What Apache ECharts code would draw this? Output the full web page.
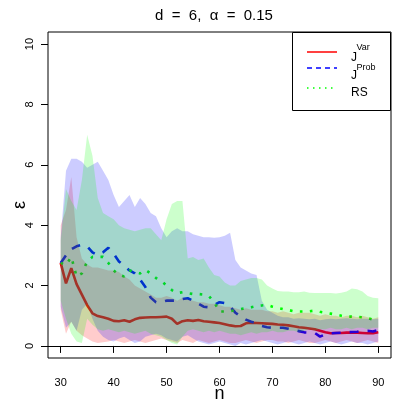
<!DOCTYPE html>
<html><head><meta charset="utf-8">
<script src="https://cdn.jsdelivr.net/npm/echarts@6/dist/echarts.min.js"></script>
<style>html,body{margin:0;padding:0;background:#fff}#c{width:407px;height:407px}</style>
</head><body><div id="c"></div>
<script>
var nVals = [30,31,32,33,34,35,36,37,38,39,40,41,42,43,44,45,46,47,48,49,50,51,52,53,54,55,56,57,58,59,60,61,62,63,64,65,66,67,68,69,70,71,72,73,74,75,76,77,78,79,80,81,82,83,84,85,86,87,88,89,90];
var xTicks = [30,40,50,60,70,80,90];
var yTicks = [0,2,4,6,8,10];

var varMean = [2.75,2.07,2.58,2.05,1.7,1.35,1.08,0.99,0.95,0.9,0.83,0.82,0.85,0.8,0.88,0.93,0.94,0.95,0.95,0.96,0.97,0.9,0.73,0.82,0.85,0.83,0.86,0.82,0.8,0.78,0.76,0.72,0.68,0.65,0.66,0.75,0.77,0.76,0.75,0.74,0.73,0.71,0.7,0.68,0.65,0.62,0.6,0.58,0.55,0.5,0.45,0.42,0.43,0.43,0.44,0.44,0.44,0.43,0.42,0.42,0.45];
var varLow = [1.2,0.4,0.8,0.5,0.35,0.25,0.15,0.1,0.12,0.15,0.2,0.15,0.1,0.15,0.2,0.15,0.1,0.15,0.2,0.25,0.2,0.15,0.1,0.2,0.15,0.1,0.2,0.15,0.1,0.15,0.2,0.15,0.1,0.1,0.15,0.2,0.15,0.1,0.15,0.2,0.2,0.15,0.15,0.1,0.15,0.2,0.15,0.1,0.1,0.15,0.2,0.15,0.1,0.15,0.2,0.15,0.1,0.15,0.2,0.15,0.1];
var varHigh = [4.0,4.5,5.6,3.6,2.9,2.7,2.6,2.6,2.55,2.5,2.5,2.45,2.3,2.2,2.0,1.9,1.8,1.7,1.6,1.6,1.65,1.6,1.5,1.6,1.55,1.5,1.45,1.45,1.4,1.4,1.35,1.3,1.3,1.25,1.2,1.25,1.2,1.2,1.2,1.15,1.15,1.1,1.15,1.1,1.05,1.1,1.1,1.1,1.05,1.0,1.05,1.0,1.0,0.95,1.0,1.0,0.95,1.0,0.95,0.9,0.95];

var probMean = [2.75,3.0,3.2,3.3,3.35,3.3,3.1,3.0,3.1,3.25,3.05,2.8,2.65,2.5,2.4,2.2,1.95,1.6,1.45,1.45,1.5,1.5,1.5,1.55,1.58,1.5,1.4,1.3,1.28,1.35,1.45,1.42,1.3,1.1,0.98,0.87,0.8,0.75,0.66,0.62,0.6,0.6,0.6,0.57,0.53,0.49,0.45,0.44,0.43,0.31,0.38,0.42,0.43,0.44,0.45,0.46,0.47,0.5,0.5,0.48,0.53];
var probLow = [1.3,0.6,0.8,0.5,1.2,1.4,0.9,0.5,0.3,0.2,0.15,0.25,0.3,0.2,0.1,0.15,0.3,0.35,0.4,0.35,0.25,0.2,0.15,0.3,0.35,0.25,0.15,0.1,0.05,0.1,0.15,0.1,0.05,0.0,0.1,0.05,0.1,0.15,0.2,0.15,0.1,0.05,0.1,0.15,0.1,0.05,0.1,0.15,0.1,0.05,0.1,0.15,0.1,0.05,0.1,0.15,0.1,0.1,0.05,0.1,0.15];
var probHigh = [3.6,5.8,6.2,6.2,6.1,5.9,6.0,6.1,5.8,5.5,5.0,4.6,4.8,5.0,4.6,4.9,4.7,4.4,4.3,3.9,3.6,3.8,3.9,3.8,3.8,3.7,3.65,3.6,3.6,3.58,3.6,3.65,3.75,2.85,2.6,2.5,2.4,2.35,1.5,1.2,1.1,1.0,0.95,0.95,0.9,0.92,0.9,0.88,0.9,0.85,0.88,0.9,0.88,0.9,0.92,0.9,0.88,0.9,0.9,0.88,0.9];

var rsMean = [2.75,2.68,2.95,2.3,2.4,2.8,2.95,2.95,2.95,2.75,2.5,2.35,2.3,2.5,2.45,2.4,2.52,2.4,2.25,2.15,2.0,1.85,1.75,1.78,1.75,1.72,1.72,1.7,1.65,1.45,1.14,1.14,1.15,1.18,1.22,1.25,1.28,1.32,1.34,1.36,1.3,1.26,1.22,1.19,1.15,1.14,1.14,1.15,1.17,1.13,1.1,1.07,1.04,1.0,0.97,0.97,0.96,0.95,0.92,0.87,0.9];
var rsLow = [1.5,0.9,0.4,0.15,0.1,0.9,0.7,0.55,0.5,0.55,0.5,0.45,0.5,0.45,0.4,0.45,0.5,0.4,0.35,0.3,0.2,0.1,0.05,0.3,0.5,0.55,0.5,0.45,0.5,0.45,0.5,0.45,0.4,0.4,0.35,0.4,0.45,0.4,0.45,0.45,0.5,0.45,0.45,0.5,0.5,0.45,0.5,0.55,0.5,0.55,0.55,0.6,0.55,0.55,0.6,0.55,0.6,0.6,0.55,0.6,0.6];
var rsHigh = [3.5,5.2,4.8,4.5,5.5,7.0,6.3,4.9,4.4,4.3,4.2,4.0,3.9,3.85,3.8,3.85,3.9,3.9,3.7,3.5,4.2,4.7,4.8,4.8,2.9,2.95,2.85,2.9,2.6,2.35,2.3,2.1,2.0,2.0,2.15,2.2,2.25,2.25,2.2,2.0,1.9,1.82,1.8,1.8,1.78,1.78,1.8,1.76,1.75,1.75,1.75,1.75,1.74,1.76,1.8,1.9,1.88,1.8,1.65,1.6,1.58];

var legendNames = ['J', 'J', 'RS'];
var legendSups = ['Var', 'Prob', ''];
var titleText = 'd  =  6,  \u03b1  =  0.15';

function pairs(a){ return nVals.map(function(n,i){ return [n, a[i]]; }); }

var series = [];
function band(name, lo, hi, fill){
  var data = nVals.map(function(n,i){ return [n, lo[i], hi[i]]; });
  series.push({type:'custom', name:name, data:data, z:3, silent:true, clip:true,
    encode:{x:0, y:[1,2]},
    renderItem:function(params, api){
      if (params.dataIndex !== 0) return null;
      var pts = [];
      for (var i=0;i<data.length;i++) pts.push(api.coord([data[i][0], data[i][2]]));
      for (var j=data.length-1;j>=0;j--) pts.push(api.coord([data[j][0], data[j][1]]));
      return {type:'polygon', shape:{points:pts}, style:{fill:fill, stroke:null}};
    }});
}
series.push({type:'line', name:'Var', data:pairs(varMean), symbol:'none', z:2,
  lineStyle:{color:'#ff0000', width:2.6, type:'solid'},
  markLine:{silent:true, symbol:['none','none'], label:{show:false},
    lineStyle:{color:'#000', width:1, type:'solid'}, data:[{yAxis:0}]}});
series.push({type:'line', name:'Prob', data:pairs(probMean), symbol:'none', z:2,
  lineStyle:{color:'#0000ff', width:2.6, type:[9,9]}});
series.push({type:'line', name:'RS', data:pairs(rsMean), symbol:'none', z:2,
  lineStyle:{color:'#00ff00', width:2.6, type:[2.6,7.4], cap:'butt'}});
band('r', varLow, varHigh, 'rgba(255,0,0,0.2)');
band('b', probLow, probHigh, 'rgba(0,0,255,0.2)');
band('g', rsLow, rsHigh, 'rgba(0,255,0,0.2)');

var font = 'Liberation Sans, Arial, Helvetica, sans-serif';
var lx0 = 307, lx1 = 337, ly = [52, 68, 88];
var graphics = [
  {type:'rect', shape:{x:292.5, y:32.5, width:98, height:78}, style:{fill:'#fff', stroke:'#000', lineWidth:1}, z:10},
  {type:'line', shape:{x1:lx0,y1:ly[0],x2:lx1,y2:ly[0]}, style:{stroke:'#ff0000', lineWidth:1.5}, z:11},
  {type:'line', shape:{x1:lx0,y1:ly[1],x2:lx1,y2:ly[1]}, style:{stroke:'#0000ff', lineWidth:1.5, lineDash:[5,4]}, z:11},
  {type:'line', shape:{x1:lx0,y1:ly[2],x2:lx1,y2:ly[2]}, style:{stroke:'#00ff00', lineWidth:1.5, lineDash:[1.5,4.5]}, z:11},
  {type:'text', x:351, y:ly[0]+5.5, style:{text:legendNames[0], font:'12px '+font, fill:'#000', textVerticalAlign:'middle'}, z:11},
  {type:'text', x:356.5, y:ly[0]-4, style:{text:legendSups[0], font:'9px '+font, fill:'#000', textVerticalAlign:'middle'}, z:11},
  {type:'text', x:351, y:ly[1]+8, style:{text:legendNames[1], font:'12px '+font, fill:'#000', textVerticalAlign:'middle'}, z:11},
  {type:'text', x:356.5, y:ly[1]-0.5, style:{text:legendSups[1], font:'9px '+font, fill:'#000', textVerticalAlign:'middle'}, z:11},
  {type:'text', x:351, y:ly[2]+5, style:{text:legendNames[2], font:'12px '+font, fill:'#000', textVerticalAlign:'middle'}, z:11},
  {type:'text', x:214, y:16, style:{text:titleText, font:'15px '+font, fill:'#000', textAlign:'center', textVerticalAlign:'middle'}, z:11},
  {type:'text', x:219.5, y:394, style:{text:'n', font:'18px '+font, fill:'#000', textAlign:'center', textVerticalAlign:'middle'}, z:11},
  {type:'text', x:20, y:205, rotation:Math.PI/2, style:{text:'\u03b5', font:'18px '+font, fill:'#000', textAlign:'center', textVerticalAlign:'middle'}, z:11}
];

var chart = echarts.init(document.getElementById('c'), null, {renderer:'canvas'});
chart.setOption({
  animation:false,
  backgroundColor:'#fff',
  grid:{left:48, right:16, top:32, bottom:49, show:true, borderColor:'#000', borderWidth:1, backgroundColor:'transparent'},
  xAxis:{type:'value', min:27.6, max:92.4, splitLine:{show:false}, axisLine:{show:false},
    axisTick:{show:true, length:7, customValues:xTicks, lineStyle:{color:'#000'}},
    axisLabel:{show:true, customValues:xTicks, margin:19, fontSize:11, color:'#000', fontFamily:font}},
  yAxis:{type:'value', min:-0.4, max:10.4, splitLine:{show:false}, axisLine:{show:false},
    axisTick:{show:true, length:7, customValues:yTicks, lineStyle:{color:'#000'}},
    axisLabel:{show:true, customValues:yTicks, margin:13, rotate:90, fontSize:11, color:'#000', fontFamily:font}},
  series:series,
  graphic:graphics
});
</script></body></html>
